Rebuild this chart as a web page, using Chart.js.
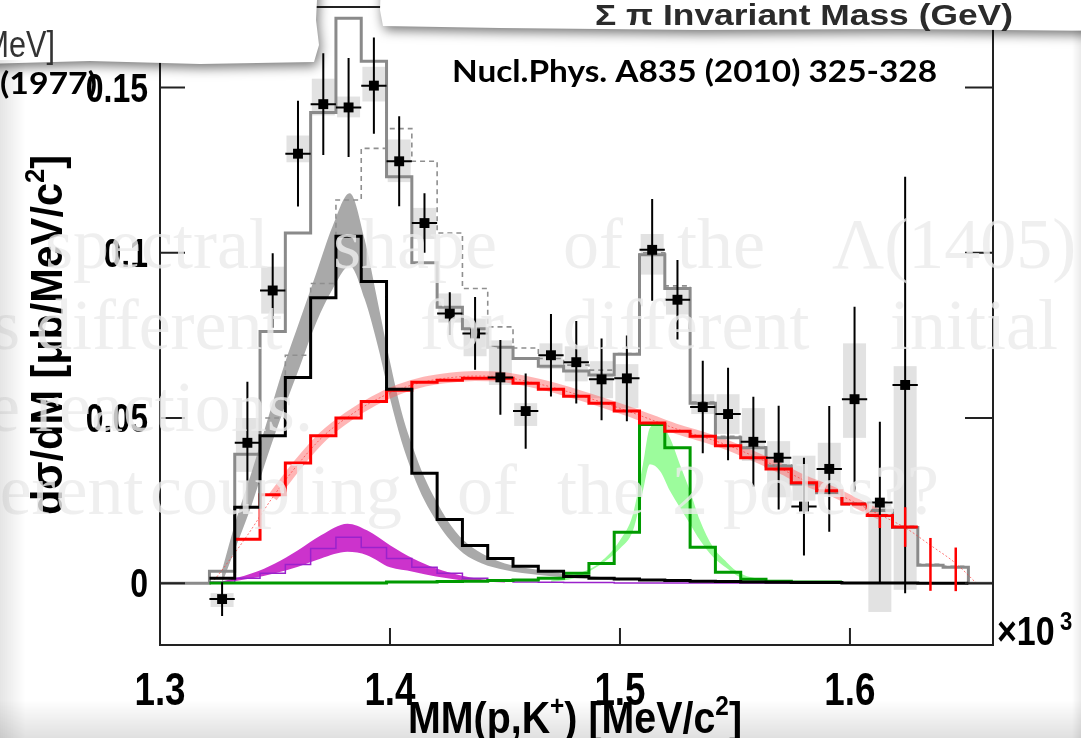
<!DOCTYPE html>
<html>
<head>
<meta charset="utf-8">
<script src="https://cdn.jsdelivr.net/npm/chart.js@4.4.1/dist/chart.umd.min.js"></script>
<style>
  html, body { margin: 0; padding: 0; background: #fff; }
  #wrap { width: 1081px; height: 738px; position: relative; }
</style>
</head>
<body>
<div id="wrap"><canvas id="c" width="1081" height="738"></canvas></div>
<script>
// --- binning (30 bins, 11 MeV wide) ---
const binWidth = 0.011;
const binCenters = [1.327, 1.338, 1.349, 1.360, 1.371, 1.382, 1.393, 1.404, 1.415, 1.426,
                    1.437, 1.448, 1.459, 1.470, 1.481, 1.492, 1.503, 1.514, 1.525, 1.536,
                    1.547, 1.558, 1.569, 1.580, 1.591, 1.602, 1.613, 1.624, 1.635, 1.646];

// --- measured points (first 28 bins) ---
const dataY   = [-0.0048, 0.0425, 0.0886, 0.130, 0.145, 0.144, 0.1506, 0.1277, 0.109, 0.0816,
                 0.0756, 0.0623, 0.0521, 0.069, 0.0669, 0.0617, 0.062, 0.1009, 0.0858, 0.0533,
                 0.0512, 0.0428, 0.038, 0.0232, 0.0346, 0.0557, 0.0244, 0.060];
const dataErr = [0.0051, 0.0185, 0.0113, 0.016, 0.0154, 0.015, 0.0146, 0.0136, 0.009, 0.0065,
                 0.011, 0.0113, 0.0114, 0.0125, 0.0125, 0.0124, 0.013, 0.0154, 0.012, 0.014,
                 0.014, 0.0136, 0.0157, 0.0148, 0.019, 0.028, 0.0245, 0.063];
// systematic boxes
const sysHi = [-0.003, 0.050, 0.0958, 0.1355, 0.1527, 0.1473, 0.1563, 0.1343, 0.1136, 0.0877,
               0.0801, 0.0735, 0.0545, 0.0726, 0.0717, 0.0672, 0.0663, 0.1057, 0.0892, 0.0572,
               0.0572, 0.053, 0.043, 0.0386, 0.0425, 0.0726, 0.024, 0.0657];
const sysLo = [-0.0072, 0.0337, 0.0816, 0.1274, 0.1416, 0.141, 0.1458, 0.1214, 0.1042, 0.0789,
               0.0687, 0.060, 0.0476, 0.0648, 0.0611, 0.056, 0.053, 0.0934, 0.0813, 0.0512,
               0.0452, 0.037, 0.026, 0.025, 0.027, 0.044, -0.0087, -0.002];

// --- histograms (per bin) ---
const totalHist = [0.0036, 0.039, 0.0762, 0.106, 0.1425, 0.171, 0.158, 0.123, 0.097, 0.0835,
                   0.077, 0.0714, 0.068, 0.0657, 0.0642, 0.063, 0.0693, 0.0994, 0.0892, 0.0545,
                   0.044, 0.041, 0.0355, 0.030, 0.0274, 0.024, 0.022, 0.0169, 0.0054, 0.0048];
const dashedHist = [0.0015, 0.023, 0.050, 0.069, 0.0907, 0.116, 0.1316, 0.1376, 0.1277, 0.106,
                    0.0892, 0.0776, 0.0712, 0.068, 0.066, 0.0645, 0.0695, 0.100, 0.090, 0.0548,
                    0.0445, 0.0413, 0.0358, 0.0303, 0.0277, 0.0243, 0.0223, 0.0172, 0.0057, 0.0051];
const lambdaHist = [0.0015, 0.023, 0.0446, 0.0623, 0.0864, 0.105, 0.0913, 0.0587, 0.0333, 0.0193,
                    0.0114, 0.0075, 0.0051, 0.0036, 0.002, 0.0015, 0.0013, 0.001, 0.0008, 0.0006,
                    0.0005, 0.0004, 0.0003, 0.0002, 0.0002, 0.0001, 0.0001, 0.0001, 0, 0];
const redHist = [null, 0.0133, 0.0268, 0.0364, 0.0446, 0.050, 0.055, 0.0584, 0.0608, 0.0614,
                 0.062, 0.062, 0.0605, 0.0587, 0.0566, 0.0545, 0.0521, 0.0485, 0.046, 0.0445,
                 0.0416, 0.038, 0.0346, 0.0304, 0.028, 0.024, 0.0205, 0.017, null, null];
const purpleHist = [0.0003, 0.0015, 0.003, 0.0057, 0.0105, 0.0139, 0.0108, 0.0075, 0.0048, 0.003,
                    0.0015, 0.0008, 0.0004, 0.0003, 0.0002, 0.0002, 0.0001, 0.0001, 0.0001, 0.0001,
                    0.0001, 0.0001, 0.0001, null, null, null, null, null, null, null];
const greenHist = [0.0001, 0.0001, 0.0001, 0.0001, 0.0001, 0.0001, 0.0001, 0.0004, 0.0004, 0.0005,
                   0.0006, 0.0008, 0.001, 0.0015, 0.003, 0.006, 0.0154, 0.048, 0.041, 0.0109,
                   0.0033, 0.0012, 0.0006, 0.0004, 0.0004, null, null, null, null, null];

// red error bars at the high-mass end
const redBarX   = [1.613, 1.624, 1.635, 1.646];
const redBarY   = [0.0187, 0.017, 0.0057, 0.0042];
const redBarErr = [0.002, 0.006, 0.008, 0.0066];

// --- smooth curves / bands ---
const redCurveX = [1.3225, 1.327, 1.338, 1.349, 1.360, 1.371, 1.382, 1.393, 1.404, 1.415, 1.426,
                   1.437, 1.448, 1.459, 1.470, 1.481, 1.492, 1.503, 1.514, 1.525, 1.536, 1.547,
                   1.558, 1.569, 1.580, 1.591, 1.602, 1.613, 1.624, 1.635, 1.646, 1.655];
const redCurveY = [0.0, 0.004, 0.0145, 0.026, 0.036, 0.0445, 0.0505, 0.0552, 0.0587, 0.061, 0.0622,
                   0.0627, 0.0625, 0.0612, 0.0594, 0.0572, 0.0548, 0.0522, 0.0494, 0.0466, 0.0443, 0.0417,
                   0.0385, 0.035, 0.0312, 0.0282, 0.0245, 0.0207, 0.0168, 0.0115, 0.006, 0.0];

const grayBandX  = [1.327, 1.333, 1.340, 1.347, 1.354, 1.361, 1.368, 1.375, 1.3825, 1.389, 1.395,
                    1.400, 1.405, 1.410, 1.415, 1.420, 1.425, 1.432, 1.440, 1.450, 1.465, 1.480, 1.500];
const grayBandLo = [0.0, 0.011, 0.024, 0.039, 0.053, 0.066, 0.079, 0.089, 0.096, 0.086, 0.071,
                    0.056, 0.043, 0.033, 0.025, 0.019, 0.014, 0.009, 0.006, 0.004, 0.0025, 0.0015, 0.0008];
const grayBandHi = [0.004, 0.019, 0.034, 0.050, 0.066, 0.080, 0.094, 0.108, 0.118, 0.104, 0.084,
                    0.067, 0.052, 0.041, 0.032, 0.025, 0.019, 0.013, 0.009, 0.006, 0.004, 0.0025, 0.0015];

const purpleBandX  = [1.327, 1.340, 1.350, 1.360, 1.370, 1.3815, 1.390, 1.400, 1.410, 1.420, 1.430, 1.440, 1.450];
const purpleBandLo = [0.0, 0.0015, 0.003, 0.005, 0.0075, 0.0095, 0.0085, 0.0048, 0.0035, 0.002, 0.001, 0.0005, 0.0002];
const purpleBandHi = [0.0005, 0.003, 0.006, 0.010, 0.0145, 0.018, 0.016, 0.0115, 0.0075, 0.0045, 0.0025, 0.0012, 0.0005];

const greenBandX  = [1.470, 1.480, 1.4913, 1.500, 1.5057, 1.510, 1.513, 1.5174, 1.5217, 1.526,
                     1.5304, 1.5348, 1.5404, 1.5465, 1.5522, 1.5639, 1.580];
const greenBandHi = [0.0008, 0.0025, 0.0063, 0.013, 0.021, 0.036, 0.047, 0.0485, 0.044, 0.036,
                     0.028, 0.019, 0.011, 0.0063, 0.003, 0.001, 0.0003];
const greenBandLo = [0.0004, 0.0015, 0.0055, 0.0105, 0.016, 0.028, 0.036, 0.034, 0.028, 0.023,
                     0.018, 0.013, 0.008, 0.0045, 0.0018, 0.0006, 0.0001];

// --- axes ---
const X_MIN = 1.3, X_MAX = 1.6622, Y_MIN = -0.0187, Y_MAX = 0.1744;
const xTickVals = [1.3, 1.4, 1.5, 1.6];
const xTickLabels = ['1.3', '1.4', '1.5', '1.6'];
const yTickVals = [0, 0.05, 0.1, 0.15];
const yTickLabels = ['0', '0.05', '0.1', '0.15'];

// faded slide text lying over the plot
const noteLines = [
  { y: 268, words: [['spectral', 45], ['shape', 333], ['of', 563], ['the', 677], ['Λ(1405)', 832]] },
  { y: 349, words: [['is', -28], ['different', 36], ['for', 420], ['different', 563], ['initial', 890]] },
  { y: 431, words: [['the', -68], ['reactions.', 35]] },
  { y: 514, words: [['different', -103], ['coupling', 150], ['of', 457], ['the', 557], ['2', 672], ['poles??', 723]] }
];

// build histogram outline points (stepped: 'before' keeps value to next edge)
function stepPoints(vals, toLeft, toRight) {
  const pts = [];
  let first = vals.findIndex(v => v !== null);
  let last = vals.length - 1;
  while (vals[last] === null) last--;
  if (toLeft !== undefined) pts.push({ x: toLeft, y: 0 });
  for (let i = first; i <= last; i++) {
    pts.push({ x: binCenters[i] - binWidth / 2, y: vals[i] });
  }
  pts.push({ x: binCenters[last] + binWidth / 2, y: vals[last] });
  if (toRight !== undefined) {
    pts.push({ x: binCenters[last] + binWidth / 2, y: 0 });
    pts.push({ x: toRight, y: 0 });
  }
  return pts;
}
function xy(xs, ys) { return xs.map((x, i) => ({ x: x, y: ys[i] })); }

const datasets = [];
function add(ds) {
  datasets.push(Object.assign({ pointRadius: 0, fill: false, tension: 0, borderWidth: 0 }, ds));
  return datasets.length - 1;
}

// bands
const gLo = add({ data: xy(grayBandX, grayBandLo), cubicInterpolationMode: 'monotone', order: 100 });
add({ data: xy(grayBandX, grayBandHi), cubicInterpolationMode: 'monotone', fill: { target: gLo },
      backgroundColor: '#a9a9a9', order: 99 });
add({ data: xy(redCurveX, redCurveY).filter(p => p.x > 1.343 && p.x < 1.62), cubicInterpolationMode: 'monotone',
      borderColor: 'rgba(255,90,90,0.45)', borderWidth: 10, borderCapStyle: 'butt', order: 98 });
const pLo = add({ data: xy(purpleBandX, purpleBandLo), cubicInterpolationMode: 'monotone', order: 97 });
add({ data: xy(purpleBandX, purpleBandHi), cubicInterpolationMode: 'monotone', fill: { target: pLo },
      backgroundColor: '#cc33cc', order: 96 });
const grLo = add({ data: xy(greenBandX, greenBandLo), cubicInterpolationMode: 'monotone', order: 95 });
add({ data: xy(greenBandX, greenBandHi), cubicInterpolationMode: 'monotone', fill: { target: grLo },
      backgroundColor: '#9cfc9c', order: 94 });

// histograms
add({ data: stepPoints(dashedHist), stepped: true, borderColor: '#8f8f8f', borderWidth: 1.6,
      borderDash: [5, 4], order: 90 });
add({ data: stepPoints(totalHist, X_MIN, X_MAX), stepped: true, borderColor: '#8a8a8a', borderWidth: 3, order: 85 });
add({ data: xy(redCurveX, redCurveY), cubicInterpolationMode: 'monotone', borderColor: 'rgba(255,60,60,0.7)',
      borderWidth: 1, borderDash: [2, 2], order: 84 });
add({ data: stepPoints(purpleHist), stepped: true, borderColor: '#9a22cc', borderWidth: 1.5, order: 80 });
add({ data: stepPoints(greenHist), stepped: true, borderColor: '#009a00', borderWidth: 3, order: 79 });
add({ data: stepPoints(redHist), stepped: true, borderColor: '#ff0000', borderWidth: 3, order: 78 });
add({ data: stepPoints(lambdaHist), stepped: true, borderColor: '#000000', borderWidth: 3, order: 77 });

// data points
add({ data: dataY.map((v, i) => ({ x: binCenters[i], y: v })), showLine: false, pointStyle: 'rect',
      pointRadius: 7, pointBackgroundColor: '#000', pointBorderWidth: 0, order: 10 });

const COND = 0.8; // horizontal squeeze for the ROOT-like condensed font

function squeezed(ctx, s, x, y, font, sx, align) {
  ctx.save();
  ctx.font = font;
  const w = ctx.measureText(s).width * sx;
  let x0 = x;
  if (align === 'right') x0 = x - w;
  else if (align === 'center') x0 = x - w / 2;
  ctx.translate(x0, y);
  ctx.scale(sx, 1);
  ctx.textAlign = 'left';
  ctx.fillText(s, 0, 0);
  ctx.restore();
  return w;
}

// text with superscripts, fitted to a width
function richText(ctx, parts, x, y, size, family, width) {
  ctx.save();
  const widths = parts.map(p => {
    ctx.font = 'bold ' + (p.sup ? size * 0.62 : size) + 'px ' + family;
    return ctx.measureText(p.t).width;
  });
  const total = widths.reduce((a, b) => a + b, 0);
  const sx = width / total;
  ctx.translate(x, y);
  ctx.scale(sx, 1);
  let cx = 0;
  parts.forEach((p, i) => {
    ctx.font = 'bold ' + (p.sup ? size * 0.62 : size) + 'px ' + family;
    ctx.fillText(p.t, cx, p.sup ? -size * 0.42 : 0);
    cx += widths[i];
  });
  ctx.restore();
}

function fitText(ctx, s, x, y, font, width) {
  ctx.save();
  ctx.font = font;
  const sx = width / ctx.measureText(s).width;
  ctx.translate(x, y);
  ctx.scale(sx, 1);
  ctx.fillText(s, 0, 0);
  ctx.restore();
}

function strip(ctx, pts) {
  ctx.save();
  ctx.shadowColor = 'rgba(0,0,0,0.55)';
  ctx.shadowBlur = 12;
  ctx.shadowOffsetX = 2;
  ctx.shadowOffsetY = 4;
  ctx.fillStyle = '#fff';
  ctx.beginPath();
  pts.forEach((p, i) => i ? ctx.lineTo(p[0], p[1]) : ctx.moveTo(p[0], p[1]));
  ctx.closePath();
  ctx.fill();
  ctx.restore();
}

const decor = {
  id: 'decor',
  beforeDatasetsDraw(chart) {
    const { ctx, scales: { x, y } } = chart;
    ctx.save();
    ctx.fillStyle = '#e2e2e2';
    sysHi.forEach((hi, i) => {
      const x0 = x.getPixelForValue(binCenters[i] - 0.005);
      const x1 = x.getPixelForValue(binCenters[i] + 0.005);
      const y0 = y.getPixelForValue(hi);
      const y1 = y.getPixelForValue(sysLo[i]);
      ctx.fillRect(x0, y0, x1 - x0, y1 - y0);
    });
    ctx.restore();
  },
  afterDatasetsDraw(chart) {
    const { ctx, chartArea: a, scales: { x, y } } = chart;
    ctx.save();
    ctx.beginPath();
    ctx.rect(a.left, a.top, a.right - a.left, a.bottom - a.top);
    ctx.clip();
    // statistical error bars
    ctx.strokeStyle = '#000';
    ctx.lineWidth = 2;
    dataY.forEach((v, i) => {
      const px = x.getPixelForValue(binCenters[i]);
      const hx = x.getPixelForValue(binCenters[i] + binWidth / 2) - px;
      const py = y.getPixelForValue(v);
      ctx.beginPath();
      ctx.moveTo(px, y.getPixelForValue(v + dataErr[i]));
      ctx.lineTo(px, y.getPixelForValue(v - dataErr[i]));
      ctx.moveTo(px - hx, py);
      ctx.lineTo(px + hx, py);
      ctx.stroke();
    });
    ctx.strokeStyle = '#ff0000';
    ctx.lineWidth = 2.5;
    redBarX.forEach((bx, i) => {
      const px = x.getPixelForValue(bx);
      ctx.beginPath();
      ctx.moveTo(px, y.getPixelForValue(redBarY[i] + redBarErr[i]));
      ctx.lineTo(px, y.getPixelForValue(redBarY[i] - redBarErr[i]));
      ctx.stroke();
    });
    ctx.restore();

    // frame and ticks
    ctx.save();
    ctx.strokeStyle = '#222';
    ctx.lineWidth = 2;
    ctx.strokeRect(a.left, a.top, a.right - a.left, a.bottom - a.top);
    ctx.beginPath();
    yTickVals.forEach(v => {
      const py = y.getPixelForValue(v);
      ctx.moveTo(a.left, py); ctx.lineTo(a.left + 25, py);
      ctx.moveTo(a.right, py); ctx.lineTo(a.right - 28, py);
    });
    xTickVals.forEach(v => {
      const px = x.getPixelForValue(v);
      ctx.moveTo(px, a.bottom); ctx.lineTo(px, a.bottom - 17);
    });
    ctx.stroke();
    ctx.restore();
  },
  afterDraw(chart) {
    const { ctx, chartArea: a, scales: { x, y } } = chart;
    const sans = '"Liberation Sans", Arial, sans-serif';
    ctx.save();
    ctx.fillStyle = '#000';
    ctx.textBaseline = 'alphabetic';
    // tick labels
    yTickVals.forEach((v, i) => {
      squeezed(ctx, yTickLabels[i], 148, y.getPixelForValue(v) + 14, 'bold 40px ' + sans, COND, 'right');
    });
    xTickVals.forEach((v, i) => {
      squeezed(ctx, xTickLabels[i], x.getPixelForValue(v), 705, 'bold 46px ' + sans, COND, 'center');
    });
    // axis titles
    richText(ctx, [{ t: 'MM(p,K' }, { t: '+', sup: true }, { t: ') [MeV/c' }, { t: '2', sup: true }, { t: ']' }],
             408, 733, 44, sans, 334);
    ctx.save();
    ctx.translate(62, 515);
    ctx.rotate(-Math.PI / 2);
    richText(ctx, [{ t: 'dσ/dM [μb/MeV/c' }, { t: '2', sup: true }, { t: ']' }], 0, 0, 44, sans, 360);
    ctx.restore();
    // x10^3
    squeezed(ctx, '×10', 997, 645, 'bold 40px ' + sans, 0.85, 'left');
    squeezed(ctx, '3', 1060, 630, 'bold 26px ' + sans, 0.85, 'left');

    // faded slide text
    ctx.fillStyle = 'rgba(236,236,236,0.82)';
    ctx.font = '72px "Liberation Serif", "DejaVu Serif", serif';
    noteLines.forEach(line => {
      line.words.forEach(w => ctx.fillText(w[0], w[1], line.y));
    });

    // reference
    ctx.fillStyle = '#000';
    fitText(ctx, 'Nucl.Phys. A835 (2010) 325-328', 452, 82, 'bold 30px Lato, "Open Sans", sans-serif', 485);
    fitText(ctx, '(1977)', 0, 94, 'bold 30px Lato, "Open Sans", sans-serif', 97);

    // torn paper strips on top
    strip(ctx, [[-20, -20], [318, -20], [316, 20], [319, 45], [314, 62], [200, 64], [90, 61], [-20, 64]]);
    strip(ctx, [[381, -20], [1100, -20], [1100, 31], [900, 29], [700, 30], [500, 28], [383, 26], [380, 10]]);
    ctx.fillStyle = '#333';
    squeezed(ctx, '[MeV]', 55, 57, '36px ' + sans, 0.85, 'right');
    ctx.fillStyle = '#2b2b2b';
    fitText(ctx, 'Σ π Invariant Mass (GeV)', 595, 25, 'bold 30px ' + sans, 418);

    // scan shading at the edges
    let g = ctx.createLinearGradient(0, 0, 26, 0);
    g.addColorStop(0, 'rgba(0,0,0,0.10)');
    g.addColorStop(1, 'rgba(0,0,0,0)');
    ctx.fillStyle = g;
    ctx.fillRect(0, 60, 26, 678);
    g = ctx.createLinearGradient(0, 700, 0, 738);
    g.addColorStop(0, 'rgba(0,0,0,0)');
    g.addColorStop(1, 'rgba(0,0,0,0.12)');
    ctx.fillStyle = g;
    ctx.fillRect(0, 700, 1081, 38);
    g = ctx.createLinearGradient(1072, 0, 1081, 0);
    g.addColorStop(0, 'rgba(0,0,0,0)');
    g.addColorStop(1, 'rgba(0,0,0,0.08)');
    ctx.fillStyle = g;
    ctx.fillRect(1072, 30, 9, 708);
    ctx.restore();
  }
};

new Chart(document.getElementById('c').getContext('2d'), {
  type: 'line',
  data: { datasets: datasets },
  options: {
    responsive: false,
    animation: false,
    layout: { padding: { left: 160, right: 88, top: 4, bottom: 93 } },
    plugins: { legend: { display: false }, tooltip: { enabled: false } },
    scales: {
      x: { type: 'linear', min: X_MIN, max: X_MAX, display: false },
      y: { type: 'linear', min: Y_MIN, max: Y_MAX, display: false }
    }
  },
  plugins: [decor]
});
</script>
</body>
</html>
